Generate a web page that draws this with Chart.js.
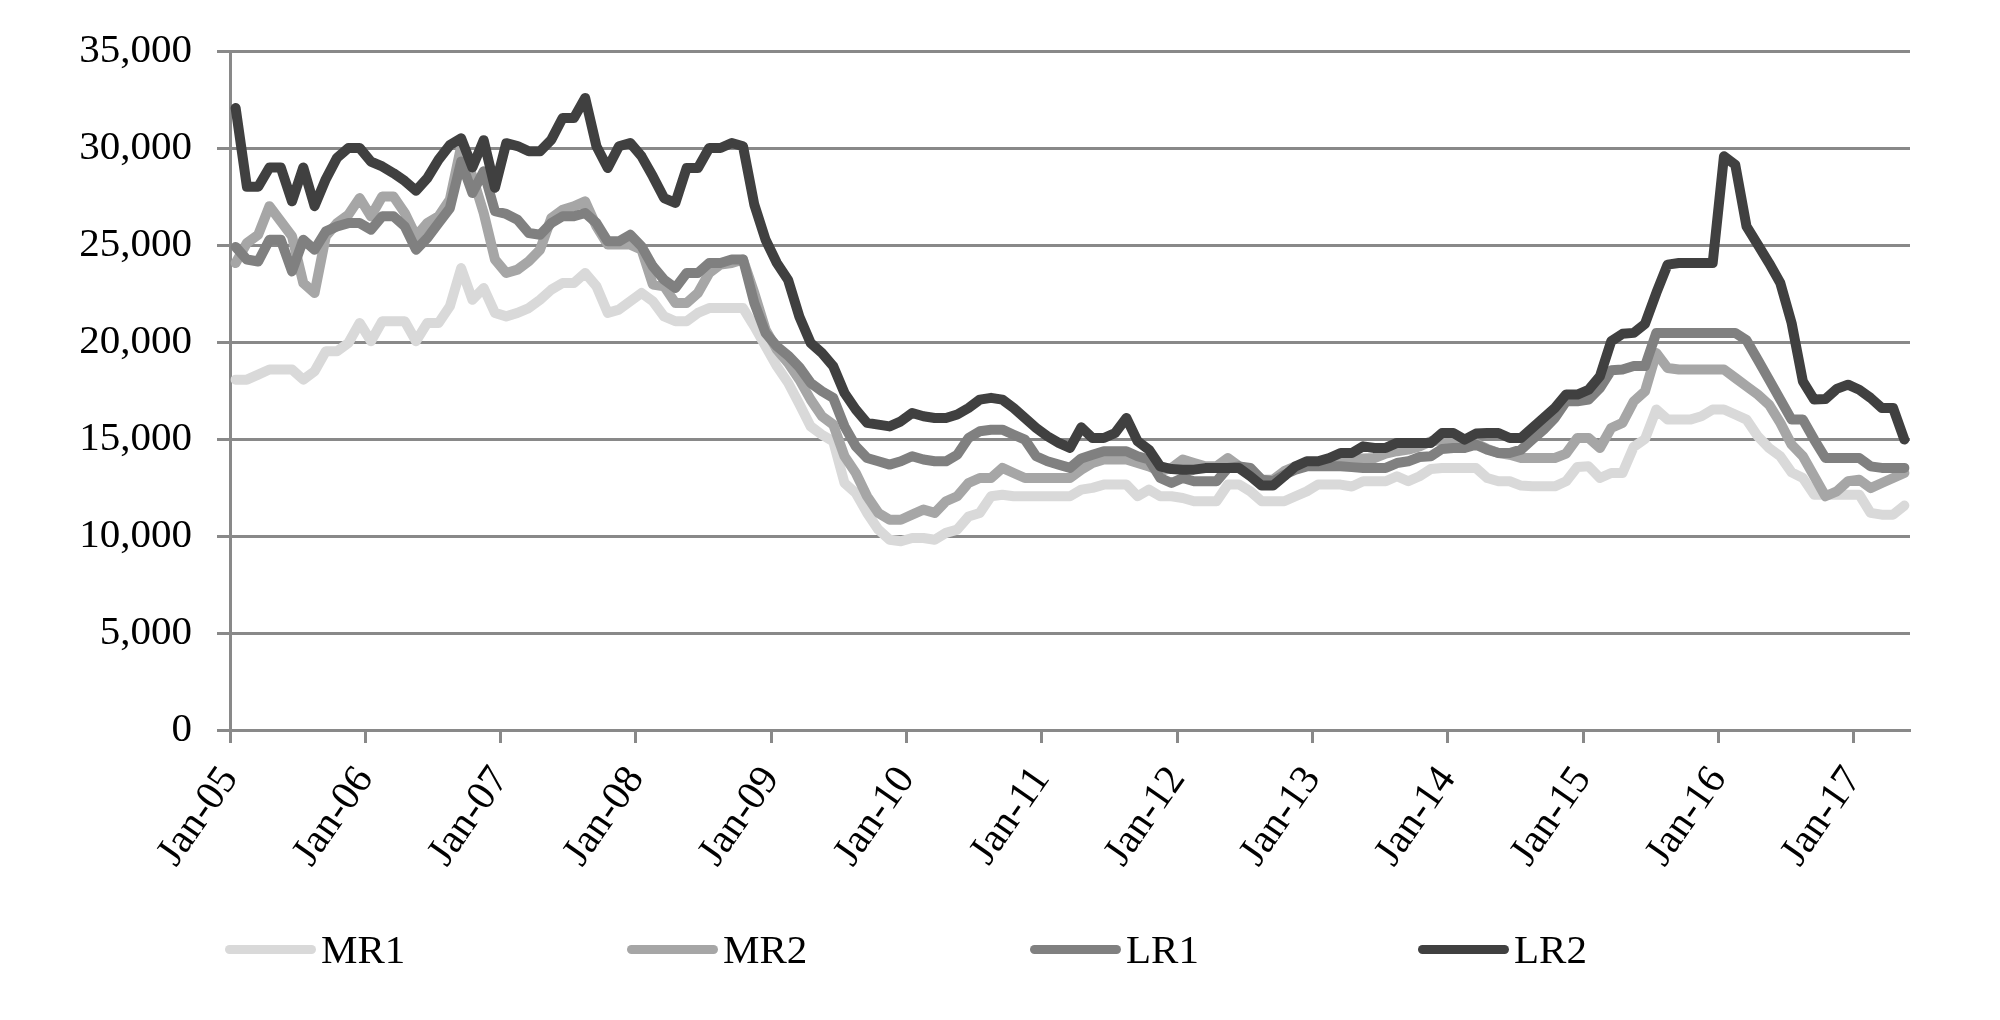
<!DOCTYPE html>
<html lang="en">
  <head>
    <meta charset="UTF-8" />
    <title>MR / LR monthly series</title>
    <script src="https://cdn.jsdelivr.net/npm/chart.js"></script>
    <style>
      body {
        margin: 0;
        background: #fff;
        font-family: "Liberation Serif", "Times New Roman", serif;
      }
      #wrap {
        position: relative;
        width: 2000px;
        height: 1020px;
      }
      #legend .item {
        position: absolute;
        top: 924px;
        height: 50px;
        display: flex;
        align-items: center;
      }
      #legend .swatch {
        width: 91px;
        height: 9px;
        border-radius: 5px;
      }
      #legend .text {
        margin-left: 5px;
        font-size: 41px;
        color: #000;
      }
    </style>
  </head>
  <body>
    <div id="wrap">
      <canvas id="lineChart"></canvas>
      <div id="legend"></div>
    </div>

    <script>
      // monthly values, Jan-05 .. May-17
      const tickLabels = ["Jan-05", "Jan-06", "Jan-07", "Jan-08", "Jan-09", "Jan-10", "Jan-11",
        "Jan-12", "Jan-13", "Jan-14", "Jan-15", "Jan-16", "Jan-17"];
      const seriesNames = ["MR1", "MR2", "LR1", "LR2"];

      const mr1 = [
        18060, 18060, 18320, 18580, 18580, 18580, 18060, 18490, 19520, 19520, 19950, 20980,
        20040, 21070, 21070, 21070, 20040, 20980, 20980, 21840, 23810, 22180, 22780, 21500,
        21320, 21500, 21750, 22180, 22700, 23040, 23040, 23560, 22870, 21500, 21670, 22100,
        22530, 22100, 21320, 21070, 21070, 21500, 21750, 21750, 21750, 21750, 20810, 19780,
        18750, 17900, 16800, 15650, 15220, 14880, 12730, 12220, 11190, 10330, 9810, 9730,
        9900, 9900, 9810, 10160, 10330, 11010, 11190, 12050, 12130, 12050, 12050, 12050,
        12050, 12050, 12050, 12390, 12480, 12650, 12650, 12650, 12050, 12390, 12050, 12050,
        11960, 11790, 11790, 11790, 12650, 12650, 12300, 11790, 11790, 11790, 12050, 12300,
        12650, 12650, 12650, 12550, 12820, 12820, 12820, 13080, 12820, 13080, 13450, 13510,
        13510, 13510, 13510, 12990, 12820, 12820, 12600, 12560, 12560, 12560, 12820, 13560,
        13590, 12990, 13250, 13250, 14600, 15000, 16520, 16000, 16000, 16000, 16170, 16520,
        16520, 16260, 16000, 15140, 14540, 14110, 13280, 12990, 12130, 12130, 12130, 12130,
        12130, 11190, 11100, 11100, 11570
      ];
      const mr2 = [
        24070, 25100, 25530, 27000, 26220, 25450, 23040, 22530, 25450, 26130, 26560, 27420,
        26480, 27500, 27500, 26650, 25450, 26130, 26480, 27340, 30090, 28540, 26650, 24250,
        23560, 23730, 24160, 24760, 26390, 26820, 26990, 27250, 25960, 25020, 25020, 25020,
        24760, 22960, 22870, 22010, 22010, 22530, 23560, 23990, 24070, 24250, 22530, 20640,
        19610, 18920, 18060, 17030, 16170, 15740, 14110, 13250, 12050, 11190, 10840, 10840,
        11100, 11360, 11190, 11790, 12050, 12730, 12990, 12990, 13510, 13250, 12990, 12990,
        12990, 12990, 12990, 13420, 13760, 13940, 13940, 13940, 13760, 13590, 13340, 13510,
        13940, 13760, 13590, 13590, 14020, 13590, 13420, 12900, 12900, 13340, 13590, 13680,
        13760, 13850, 13940, 13960, 14000, 14020, 14250, 14370, 14450, 14620, 14880, 14930,
        14880, 14710, 14760, 14490, 14280, 14190, 14020, 14020, 14020, 14020, 14250, 15050,
        15050, 14540, 15570, 15830, 16940, 17460, 19430, 18660, 18580, 18580, 18580, 18580,
        18580, 18150, 17720, 17290, 16770, 15830, 14710, 14110, 13080, 12050, 12300, 12820,
        12900, 12470, 12730, 12990, 13250
      ];
      const lr1 = [
        24900, 24250, 24150, 25270, 25270, 23640, 25270, 24760, 25700, 25960, 26130, 26130,
        25790, 26480, 26480, 25960, 24760, 25360, 26130, 26900, 29300, 27680, 28800, 26740,
        26600, 26300, 25620, 25530, 26130, 26480, 26480, 26650, 26130, 25190, 25190, 25530,
        24930, 23900, 23210, 22780, 23560, 23560, 24070, 24070, 24250, 24250, 22010, 20460,
        19780, 19300, 18700, 17890, 17460, 17120, 15650, 14630, 14020, 13850, 13680, 13850,
        14110, 13940, 13850, 13850, 14190, 15050, 15400, 15480, 15480, 15220, 14970, 14110,
        13850, 13680, 13510, 14000, 14190, 14370, 14370, 14370, 14110, 13940, 12990, 12730,
        12990, 12820, 12820, 12820, 13510, 13590, 13510, 12900, 12820, 13160, 13420, 13590,
        13590, 13590, 13590, 13550, 13510, 13510, 13510, 13760, 13850, 14070, 14110, 14490,
        14540, 14540, 14710, 14450, 14280, 14280, 14450, 14970, 15480, 16080, 16940, 16940,
        17030, 17630, 18540, 18580, 18760, 18760, 20470, 20470, 20470, 20470, 20470, 20470,
        20470, 20470, 20090, 19090, 18060, 17030, 16000, 16000, 14970, 14020, 14020, 14020,
        14020, 13590, 13510, 13510, 13510
      ];
      const lr2 = [
        32060, 28000, 28000, 29000, 29000, 27250, 29000, 27000, 28400, 29500, 30000, 30000,
        29300, 29050, 28700, 28300, 27800, 28450, 29400, 30150, 30500, 29000, 30400, 27950,
        30250, 30100, 29830, 29830, 30430, 31550, 31550, 32580, 30090, 28970, 30090, 30260,
        29570, 28540, 27420, 27170, 28970, 28970, 30000, 30000, 30260, 30090, 27080, 25270,
        24070, 23200, 21300, 19950, 19430, 18750, 17370, 16520, 15830, 15740, 15650, 15910,
        16340, 16170, 16080, 16080, 16260, 16600, 17030, 17120, 17030, 16600, 16080, 15570,
        15140, 14800, 14540, 15600, 15050, 15050, 15310, 16080, 14880, 14450, 13590, 13450,
        13420, 13420, 13500, 13500, 13500, 13500, 13080, 12600, 12600, 13080, 13590, 13850,
        13850, 14020, 14280, 14280, 14620, 14540, 14540, 14800, 14800, 14800, 14800, 15310,
        15310, 14970, 15280, 15310, 15310, 15050, 15050, 15570, 16080, 16600, 17290, 17290,
        17540, 18230, 20040, 20420, 20470, 20940, 22530, 23990, 24070, 24070, 24070, 24070,
        29570, 29140, 25960, 25020, 24070, 23040, 20980, 17970, 17030, 17060, 17580, 17800,
        17540, 17120, 16600, 16600, 14970
      ];

      const seriesValues = [mr1, mr2, lr1, lr2];
      const seriesColors = ["#d9d9d9", "#a6a6a6", "#808080", "#404040"];
      const axisGray = "#898989";
      const font = { family: "'Liberation Serif', 'Times New Roman', serif", size: 41 };

      // x is months since Jan-05, each value sits mid-month
      const toPoints = (values) => values.map((v, i) => ({ x: i + 0.5, y: v }));

      const datasets = seriesNames.map((name, k) => ({
        label: name,
        data: toPoints(seriesValues[k]),
        borderColor: seriesColors[k],
        backgroundColor: seriesColors[k],
        borderWidth: 10,
        borderJoinStyle: "round",
        borderCapStyle: "round",
        pointRadius: 0,
        tension: 0,
        order: seriesNames.length - k, // LR2 on top
      }));

      const ctx = document.getElementById("lineChart").getContext("2d");
      const chart = new Chart(ctx, {
        type: "line",
        data: { datasets },
        options: {
          responsive: true,
          maintainAspectRatio: false,
          animation: false,
          layout: { padding: { left: 15, right: 90, top: 51, bottom: 130 } },
          plugins: {
            legend: { display: false },
            tooltip: { enabled: false },
          },
          scales: {
            x: {
              type: "linear",
              min: 0,
              max: 149,
              afterBuildTicks: (scale) => {
                scale.ticks = tickLabels.map((_, k) => ({ value: k * 12 }));
              },
              afterFit: (scale) => {
                scale.height = 160;
              },
              ticks: {
                autoSkip: false,
                maxRotation: 55,
                minRotation: 55,
                padding: 15,
                color: "#000",
                font,
                callback: (value) => tickLabels[Math.round(value / 12)],
              },
              grid: {
                drawOnChartArea: false,
                drawTicks: true,
                tickLength: 13,
                tickWidth: 3,
                tickColor: axisGray,
              },
              border: { display: true, color: axisGray, width: 3 },
            },
            y: {
              min: 0,
              max: 35000,
              afterFit: (scale) => {
                scale.width = 215;
              },
              ticks: {
                stepSize: 5000,
                padding: 25,
                color: "#000",
                font,
                callback: (value) => value.toLocaleString("en-US"),
              },
              grid: {
                color: axisGray,
                lineWidth: 3,
                tickLength: 13,
              },
              border: { display: true, color: axisGray, width: 3 },
            },
          },
        },
      });

      // legend row below the axis labels
      const legendLefts = [225, 627, 1030, 1418];
      const legendBox = document.getElementById("legend");
      seriesNames.forEach((name, k) => {
        const item = document.createElement("div");
        item.className = "item";
        item.style.left = legendLefts[k] + "px";
        item.innerHTML =
          '<span class="swatch" style="background:' + seriesColors[k] + '"></span>' +
          '<span class="text">' + name + "</span>";
        legendBox.appendChild(item);
      });
    </script>
  </body>
</html>
